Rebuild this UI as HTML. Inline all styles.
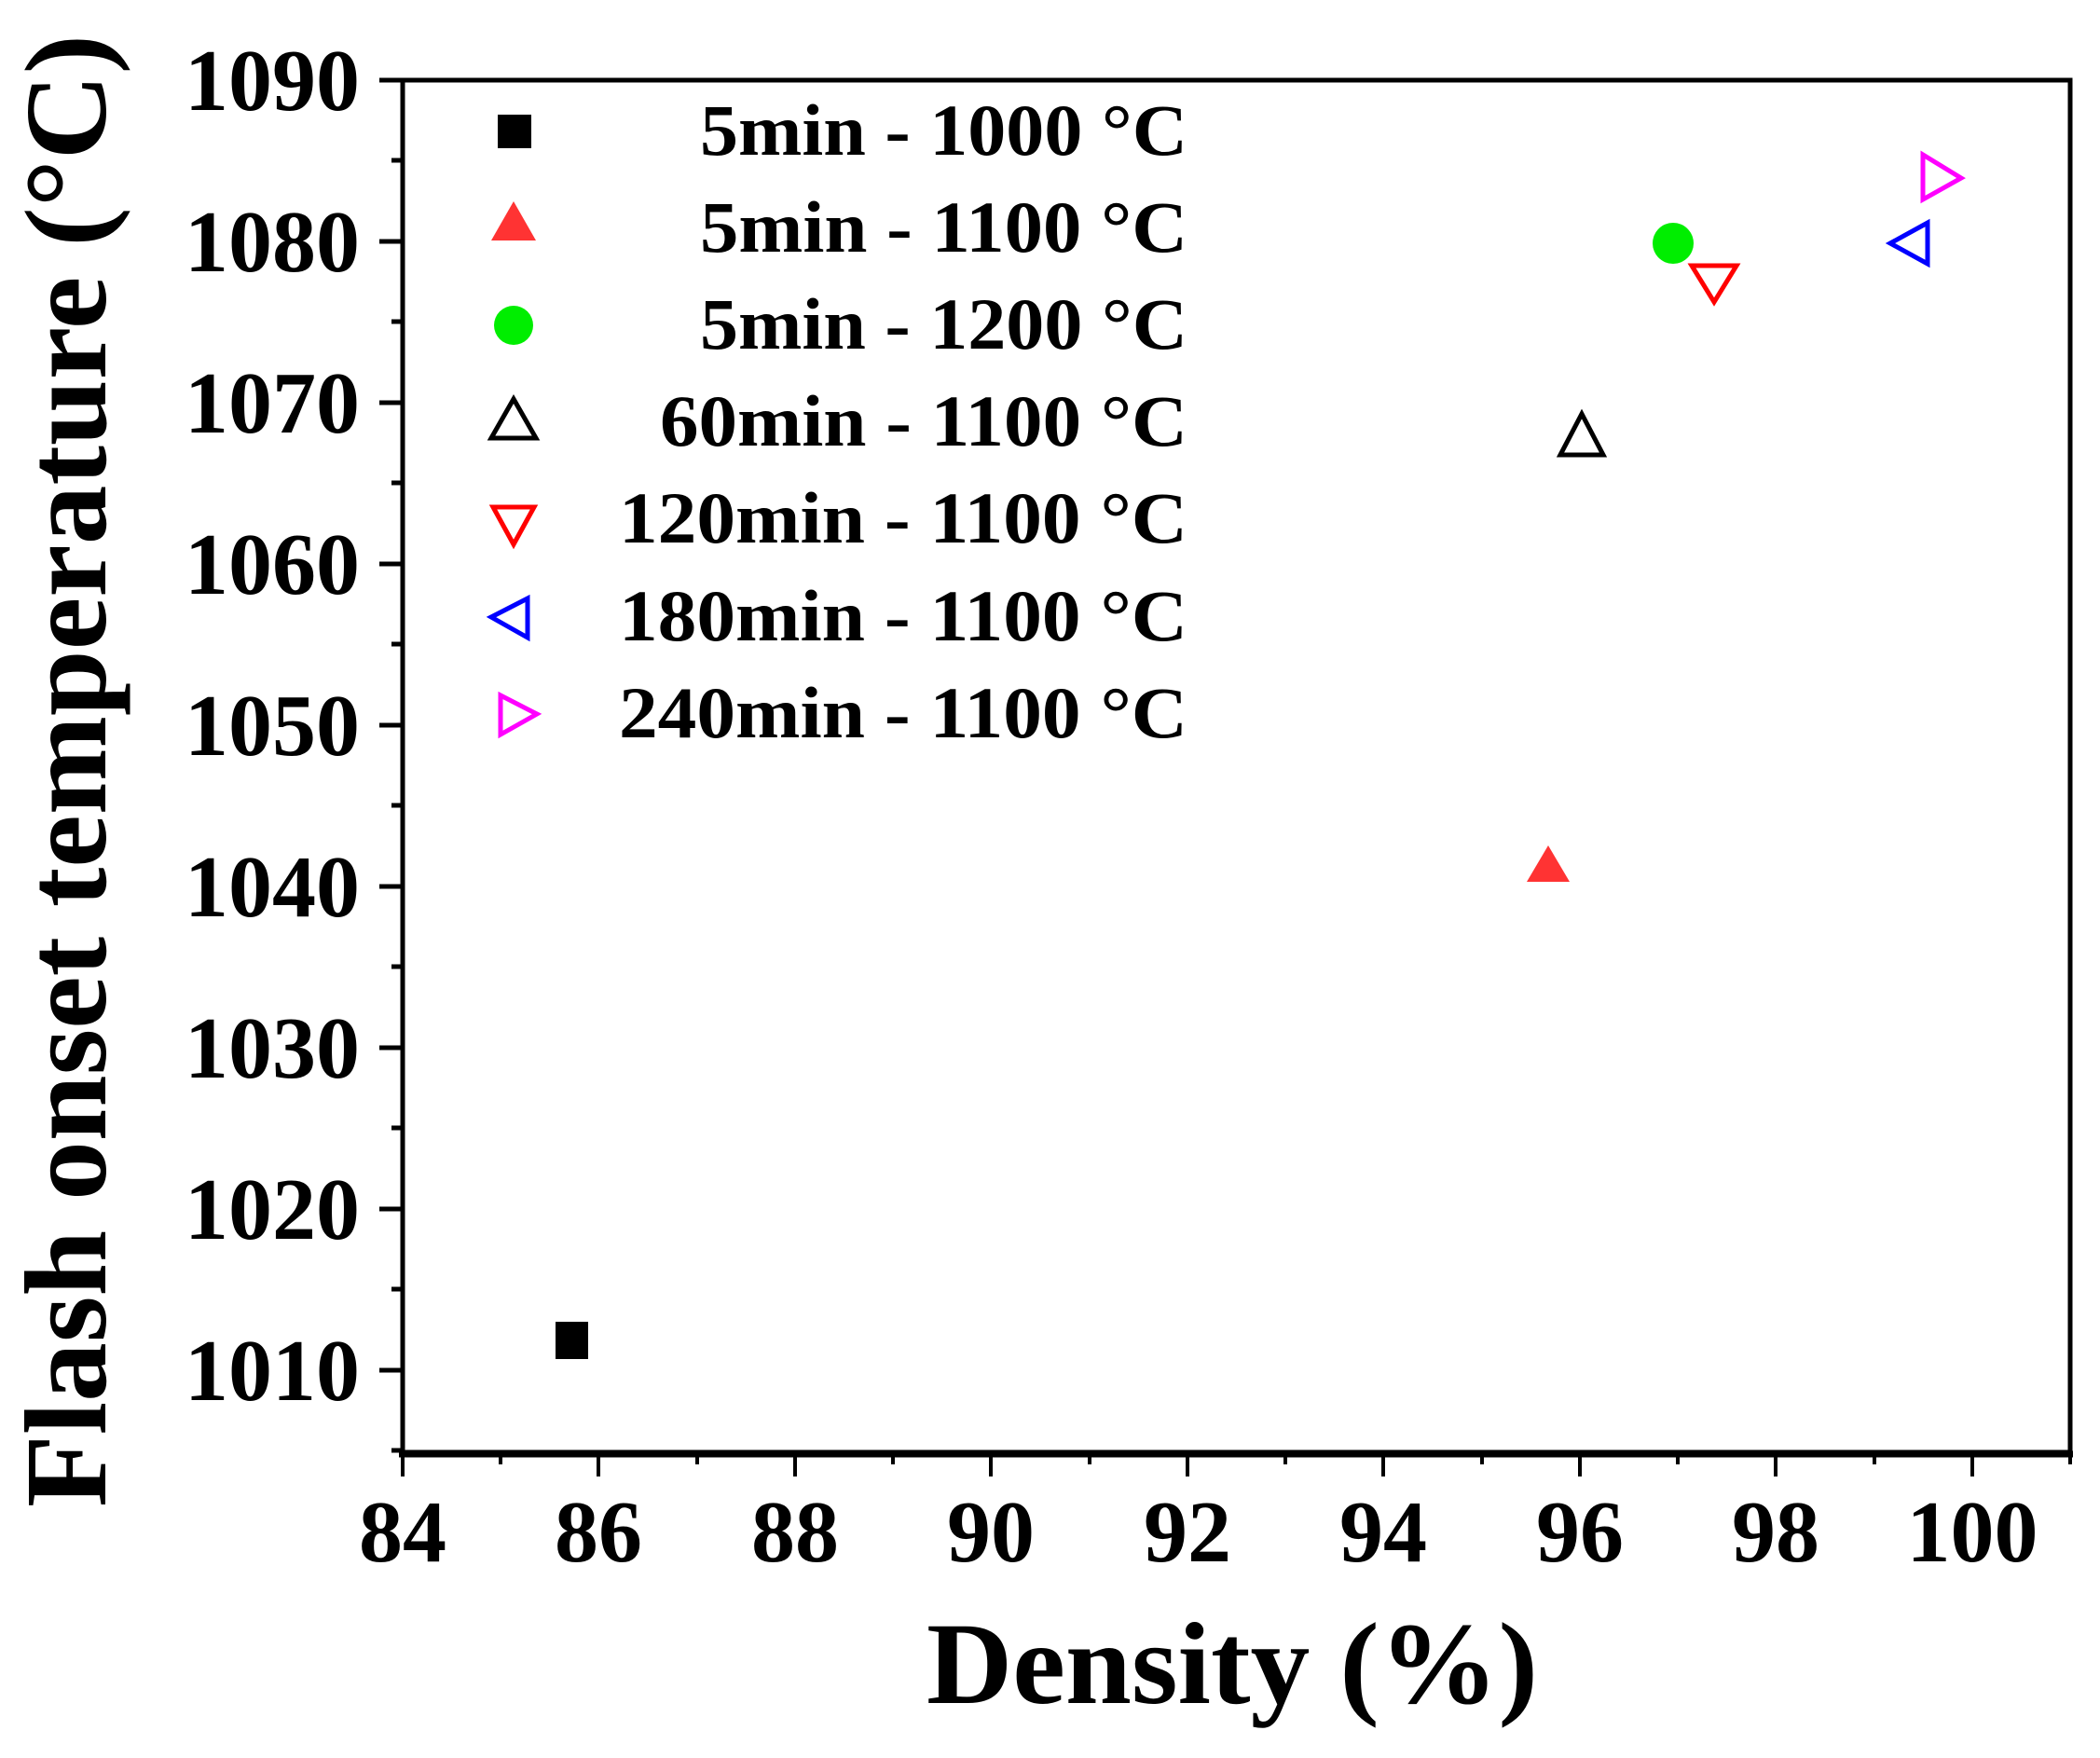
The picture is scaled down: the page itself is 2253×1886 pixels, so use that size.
<!DOCTYPE html>
<html><head><meta charset="utf-8"><style>html,body{margin:0;padding:0;background:#fff}svg{display:block}text{font-family:"Liberation Serif","Times New Roman",serif;font-weight:bold}</style></head>
<body>
<svg width="2253" height="1886" viewBox="0 0 2253 1886" xmlns="http://www.w3.org/2000/svg">
<rect width="2253" height="1886" fill="#fff"/>
<rect x="432" y="86" width="1789" height="1472" fill="none" stroke="#000" stroke-width="5"/>
<line x1="428" y1="1560" x2="2224" y2="1560" stroke="#000" stroke-width="7"/>
<g stroke="#000" stroke-width="5">
<line x1="407" y1="86" x2="432" y2="86"/><line x1="420" y1="172" x2="432" y2="172"/>
<line x1="407" y1="259" x2="432" y2="259"/><line x1="420" y1="345" x2="432" y2="345"/>
<line x1="407" y1="432" x2="432" y2="432"/><line x1="420" y1="518" x2="432" y2="518"/>
<line x1="407" y1="605" x2="432" y2="605"/><line x1="420" y1="691" x2="432" y2="691"/>
<line x1="407" y1="778" x2="432" y2="778"/><line x1="420" y1="864" x2="432" y2="864"/>
<line x1="407" y1="951" x2="432" y2="951"/><line x1="420" y1="1037" x2="432" y2="1037"/>
<line x1="407" y1="1124" x2="432" y2="1124"/><line x1="420" y1="1210" x2="432" y2="1210"/>
<line x1="407" y1="1297" x2="432" y2="1297"/><line x1="420" y1="1383" x2="432" y2="1383"/>
<line x1="407" y1="1470" x2="432" y2="1470"/><line x1="420" y1="1556" x2="432" y2="1556"/>
</g>
<g stroke="#000" stroke-width="4">
<line x1="432" y1="1560" x2="432" y2="1584"/><line x1="537" y1="1560" x2="537" y2="1571"/>
<line x1="642" y1="1560" x2="642" y2="1584"/><line x1="748" y1="1560" x2="748" y2="1571"/>
<line x1="853" y1="1560" x2="853" y2="1584"/><line x1="958" y1="1560" x2="958" y2="1571"/>
<line x1="1063" y1="1560" x2="1063" y2="1584"/><line x1="1169" y1="1560" x2="1169" y2="1571"/>
<line x1="1274" y1="1560" x2="1274" y2="1584"/><line x1="1379" y1="1560" x2="1379" y2="1571"/>
<line x1="1484" y1="1560" x2="1484" y2="1584"/><line x1="1590" y1="1560" x2="1590" y2="1571"/>
<line x1="1695" y1="1560" x2="1695" y2="1584"/><line x1="1800" y1="1560" x2="1800" y2="1571"/>
<line x1="1905" y1="1560" x2="1905" y2="1584"/><line x1="2011" y1="1560" x2="2011" y2="1571"/>
<line x1="2116" y1="1560" x2="2116" y2="1584"/><line x1="2221" y1="1560" x2="2221" y2="1571"/>
</g>
<g font-size="94" text-anchor="end">
<text x="386" y="118">1090</text><text x="386" y="291">1080</text><text x="386" y="464">1070</text>
<text x="386" y="637">1060</text><text x="386" y="810">1050</text><text x="386" y="983">1040</text>
<text x="386" y="1156">1030</text><text x="386" y="1329">1020</text><text x="386" y="1502">1010</text>
</g>
<g font-size="94" text-anchor="middle">
<text x="432" y="1675">84</text><text x="642" y="1675">86</text><text x="853" y="1675">88</text>
<text x="1063" y="1675">90</text><text x="1274" y="1675">92</text><text x="1484" y="1675">94</text>
<text x="1695" y="1675">96</text><text x="1905" y="1675">98</text><text x="2116" y="1675">100</text>
</g>
<text x="994" y="1827" font-size="125" textLength="656" lengthAdjust="spacingAndGlyphs">Density (%)</text>
<text transform="translate(113,1617) rotate(-90)" font-size="125" textLength="1580" lengthAdjust="spacingAndGlyphs">Flash onset temperature (°C)</text>
<g font-size="78">
<text x="751" y="166" textLength="523" lengthAdjust="spacingAndGlyphs">5min - 1000 °C</text>
<text x="751" y="270" textLength="523" lengthAdjust="spacingAndGlyphs">5min - 1100 °C</text>
<text x="751" y="374" textLength="523" lengthAdjust="spacingAndGlyphs">5min - 1200 °C</text>
<text x="708" y="478" textLength="566" lengthAdjust="spacingAndGlyphs">60min - 1100 °C</text>
<text x="664" y="582" textLength="610" lengthAdjust="spacingAndGlyphs">120min - 1100 °C</text>
<text x="664" y="687" textLength="610" lengthAdjust="spacingAndGlyphs">180min - 1100 °C</text>
<text x="664" y="791" textLength="610" lengthAdjust="spacingAndGlyphs">240min - 1100 °C</text>
</g>
<rect x="534" y="123" width="36" height="36" fill="#000"/>
<polygon points="551,216 575,258 527,258" fill="#ff3333"/>
<circle cx="551" cy="349" r="21" fill="#00ee00"/>
<polygon points="551,428 575,470 527,470" fill="none" stroke="#000" stroke-width="5"/>
<polygon points="529,544 573,544 551,584" fill="none" stroke="#f00" stroke-width="5"/>
<polygon points="527,662 566,642 566,684" fill="none" stroke="#00f" stroke-width="5"/>
<polygon points="576,766 537,746 537,788" fill="none" stroke="#f0f" stroke-width="5"/>
<rect x="596" y="1418" width="35" height="40" fill="#000"/>
<polygon points="1661,907 1684,946 1638,946" fill="#ff3333"/>
<circle cx="1795" cy="261" r="22" fill="#00ee00"/>
<polygon points="1815,285 1863,285 1839,324" fill="none" stroke="#f00" stroke-width="5"/>
<polygon points="1697,444 1720,488 1674,488" fill="none" stroke="#000" stroke-width="5"/>
<polygon points="2028,261 2068,239 2068,283" fill="none" stroke="#00f" stroke-width="5"/>
<polygon points="2104,191 2063,166 2063,214" fill="none" stroke="#f0f" stroke-width="5"/>
</svg>
</body></html>
